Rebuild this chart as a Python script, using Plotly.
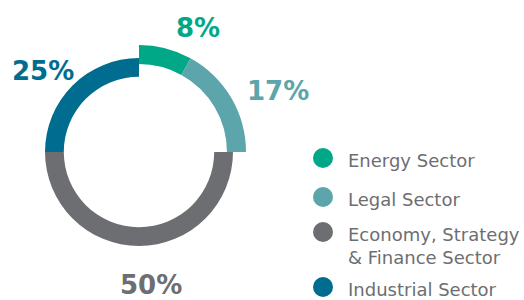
import plotly.graph_objects as go

sectors = ["Energy Sector", "Legal Sector", "Economy, Strategy & Finance Sector", "Industrial Sector"]
legend_text = ["Energy Sector", "Legal Sector", "Economy, Strategy<br>& Finance Sector", "Industrial Sector"]
values = [8, 17, 50, 25]
colors = ["#00A887", "#5BA5AB", "#6D6E71", "#006C8F"]
outer_ring = [True, True, False, False]  # energy & legal drawn on the larger ring

W, H = 524, 300
cx, cy = 139, 148  # ring centre in px (y measured from bottom)


def px_dom(cx, cy, r):
    return dict(x=[(cx - r) / W, (cx + r) / W], y=[(cy - r) / H, (cy + r) / H])


fig = go.Figure()
for big, r, hole in [(True, 107, 0.822), (False, 94, 0.80)]:
    cols = [c if o == big else "rgba(0,0,0,0)" for c, o in zip(colors, outer_ring)]
    fig.add_trace(go.Pie(
        labels=sectors, values=values, sort=False, direction="clockwise", rotation=0,
        hole=hole, marker=dict(colors=cols, line=dict(width=0)),
        textinfo="none", hoverinfo="label+percent", showlegend=False,
        domain=px_dom(cx, cy, r),
    ))

FONT = "DejaVu Sans"
# percentage labels (px positions from top-left)
label_pos = [(198, 28), (278, 91), (151, 285), (43, 71)]
annotations = []
for v, c, (x, y) in zip(values, colors, label_pos):
    annotations.append(dict(
        x=x / W, y=1 - y / H, xref="paper", yref="paper", text=f"{v}%",
        showarrow=False, xanchor="center", yanchor="middle",
        font=dict(family=FONT, size=26, color=c, weight="bold"),
    ))

shapes = []
leg_y = [158, 197, 232, 287]
for t, c, y in zip(legend_text, colors, leg_y):
    shapes.append(dict(type="circle", xref="paper", yref="paper", xsizemode="pixel", ysizemode="pixel",
                       xanchor=323 / W, yanchor=1 - y / H, x0=-10, x1=10, y0=-10, y1=10,
                       fillcolor=c, line=dict(width=0)))
    annotations.append(dict(
        x=346 / W, y=1 - (y - 10) / H, xref="paper", yref="paper", text=t,
        showarrow=False, xanchor="left", yanchor="top", align="left",
        font=dict(family=FONT, size=18, color="#6D6E71"),
    ))

fig.update_layout(
    width=W, height=H, margin=dict(l=0, r=0, t=0, b=0),
    paper_bgcolor="white", plot_bgcolor="white",
    annotations=annotations, shapes=shapes, showlegend=False,
)
fig.write_html("out.html", config={"displayModeBar": False},
               post_script="document.body.style.margin='0';")
